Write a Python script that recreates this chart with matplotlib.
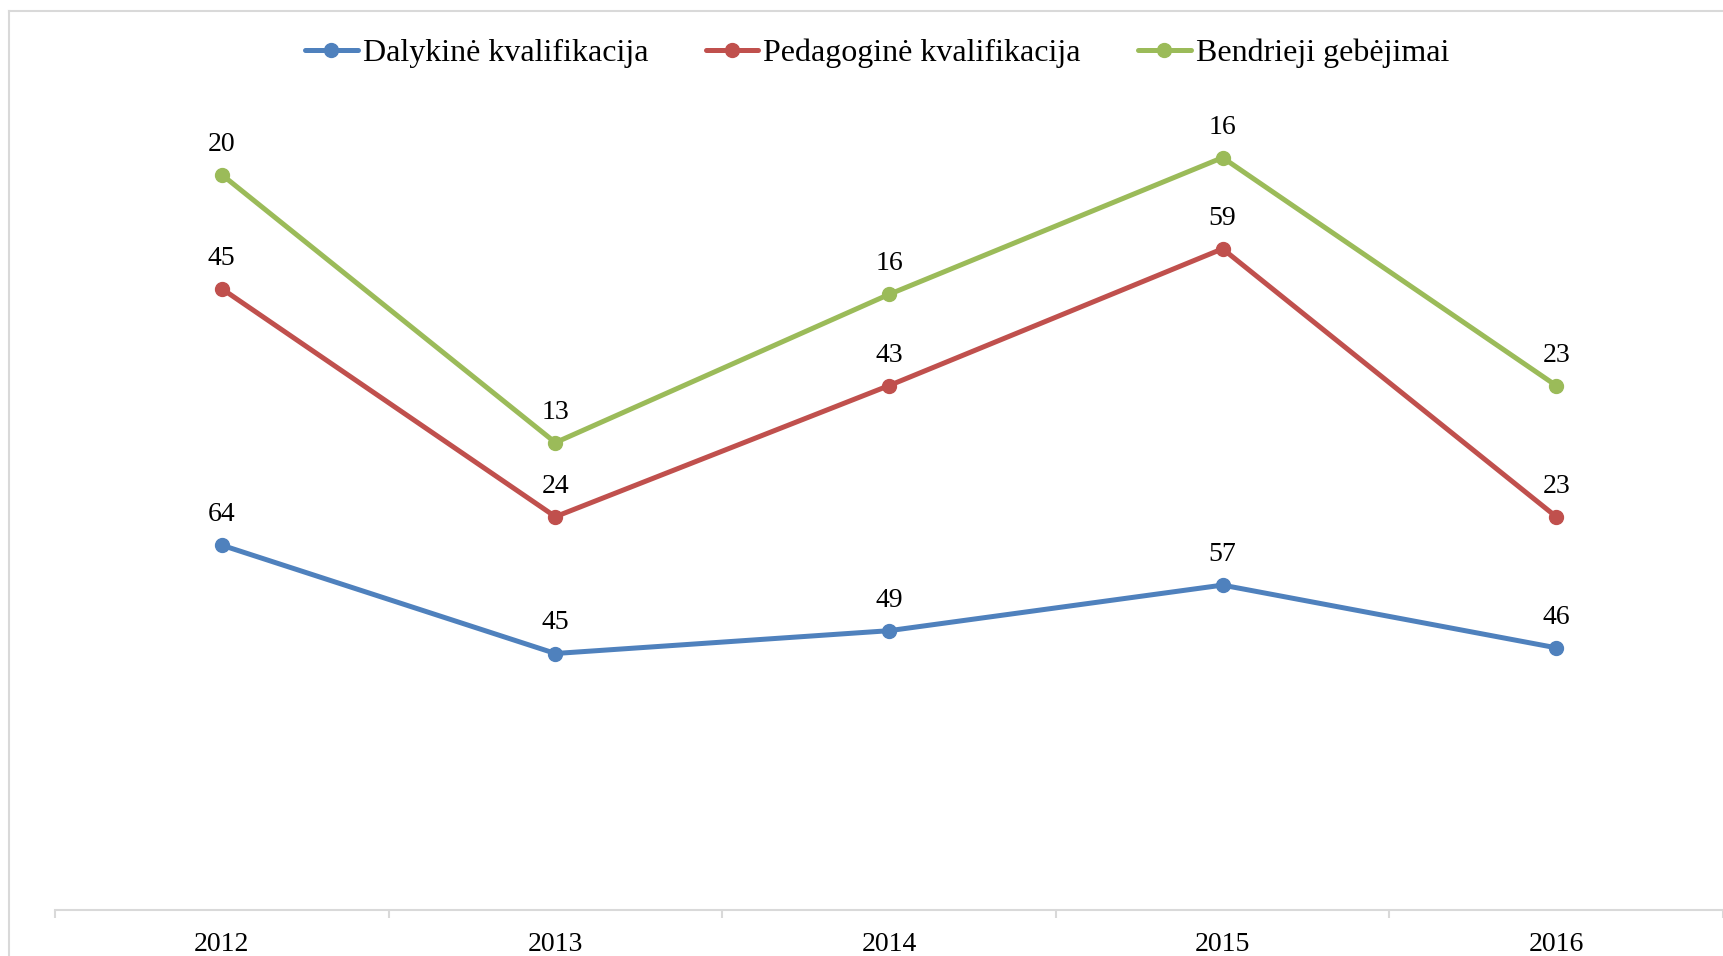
import matplotlib
matplotlib.use("Agg")
import matplotlib.pyplot as plt
from matplotlib.lines import Line2D
import numpy as np

years = ["2012", "2013", "2014", "2015", "2016"]
dalykine = [64, 45, 49, 57, 46]
pedagogine = [45, 24, 43, 59, 23]
bendrieji = [20, 13, 16, 16, 23]
series_names = ["Dalykinė kvalifikacija", "Pedagoginė kvalifikacija", "Bendrieji gebėjimai"]
colors = ["#4F81BD", "#C0504D", "#9BBB59"]

plt.rcParams['font.family'] = ['Liberation Serif', 'DejaVu Serif']

W, H = 1723, 956
fig = plt.figure(figsize=(W / 100, H / 100), dpi=100)

# outer chart border (left and top visible)
fig.add_artist(Line2D([9 / W, 9 / W], [0, 1 - 11 / H], color="#D9D9D9", lw=1.5, transform=fig.transFigure))
fig.add_artist(Line2D([9 / W, 1], [1 - 11 / H, 1 - 11 / H], color="#D9D9D9", lw=1.5, transform=fig.transFigure))

left = 55 / W
bottom = 1 - 910 / H
top_px = 55
ax = fig.add_axes([left, bottom, 1 - left, (910 - top_px) / H])

x = np.arange(len(years))
series = [np.array(dalykine), np.array(pedagogine), np.array(bendrieji)]
cum = np.zeros(len(years))
handles = []
for vals, name, col in zip(series, series_names, colors):
    cum = cum + vals
    h, = ax.plot(x, cum, color=col, lw=3.6, marker="o", markersize=10, label=name,
                 solid_capstyle="round", zorder=3)
    handles.append(h)
    for xi, yi, v in zip(x, cum, vals):
        ax.annotate(str(v), (xi, yi), xytext=(0, 13), textcoords="offset points",
                    ha="center", va="bottom", fontsize=20, color="black")

ax.set_xlim(-0.5, len(years) - 0.5)
ax.set_ylim(0, 150)
ax.set_xticks(x)
ax.set_xticklabels(years, fontsize=20)
ax.tick_params(axis="x", which="major", length=0, pad=16)
ax.set_xticks(np.arange(-0.5, len(years), 1.0), minor=True)
ax.tick_params(axis="x", which="minor", length=6, color="#D9D9D9", width=1.5, direction="out")
ax.set_yticks([])
for s in ["left", "right", "top"]:
    ax.spines[s].set_visible(False)
ax.spines["bottom"].set_color("#D9D9D9")
ax.spines["bottom"].set_linewidth(1.5)

fig.legend(handles=handles, loc="center", bbox_to_anchor=(0.509, 1 - 53 / H), ncol=3,
           frameon=False, fontsize=23, handlelength=1.65, handletextpad=0.15,
           columnspacing=1.8)

fig.savefig("out.png", dpi=100)
